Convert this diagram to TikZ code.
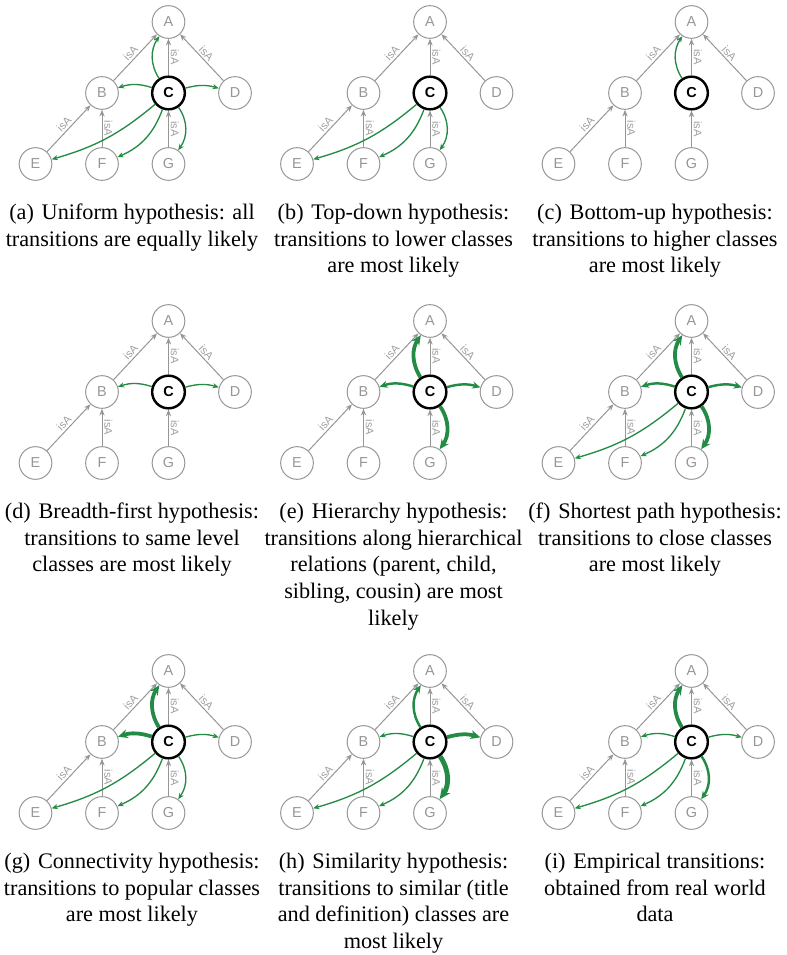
\documentclass[tikz,border=0pt]{standalone}
\usepackage{fontspec}
\setmainfont{Liberation Serif}
\setsansfont{Liberation Sans}
\usepackage{tikz}
\usetikzlibrary{arrows.meta}

\definecolor{clsgray}{RGB}{150,150,150}
\definecolor{lblgray}{RGB}{160,160,160}
\definecolor{trgreen}{RGB}{35,139,69}

\tikzset{
  cls/.style={circle, draw=clsgray, text=clsgray, line width=0.45pt,
    minimum size=14.7pt, inner sep=0pt, font=\sffamily\fontsize{6.5}{7}\selectfont},
  cur/.style={cls, draw=black, text=black, line width=1.1pt,
    font=\sffamily\bfseries\fontsize{6.5}{7}\selectfont},
  isa/.style={draw=clsgray, line width=0.45pt, -{Stealth[length=3pt,width=2.4pt]}},
  lbl/.style={font=\sffamily\fontsize{5}{5}\selectfont, text=lblgray, sloped, above, inner sep=0.8pt},
  lblv/.style={font=\sffamily\fontsize{5}{5}\selectfont, text=lblgray, rotate=-90, anchor=south, inner sep=0.8pt},
  trans/.style={draw=trgreen, line width=0.6pt, -{Stealth[length=2.8pt,width=2.3pt]}},
  trans med/.style={line width=1.1pt, -{Stealth[length=3.6pt,width=3.2pt]}},
  trans bold/.style={line width=1.7pt, -{Stealth[length=4.4pt,width=4pt]}},
  trans heavy/.style={line width=2.2pt, -{Stealth[length=5pt,width=4.6pt]}},
  bendA/.style={bend left=33},
  bendB/.style={bend right=18},
  bendD/.style={bend left=16},
  bendE/.style={bend left=12},
  bendF/.style={bend left=23},
  bendG/.style={bend left=35},
  subcap/.style={align=center, anchor=north, inner sep=0pt,
    font=\fontsize{10}{12}\selectfont}
}

% the class graph of one panel, A placed at (#2,#3)
\newcommand\taxonomy[3]{%
\begin{scope}[shift={(#2,#3)}]
\node[cls] (#1A) at (0,0) {A};
\node[cls] (#1B) at (-66.5,71) {B};
\node[cur] (#1C) at (0,71) {C};
\node[cls] (#1D) at (66.5,71) {D};
\node[cls] (#1E) at (-133,142) {E};
\node[cls] (#1F) at (-66.5,142) {F};
\node[cls] (#1G) at (0,142) {G};
\draw[isa] (#1E) -- node[lbl] {isA} (#1B);
\draw[isa] (#1F) -- node[lblv] {isA} (#1B);
\draw[isa] (#1B) -- node[lbl] {isA} (#1A);
\draw[isa] (#1C) -- node[lblv] {isA} (#1A);
\draw[isa] (#1D) -- node[lbl] {isA} (#1A);
\draw[isa] (#1G) -- node[lblv] {isA} (#1C);
\end{scope}}

% transition from C to #2
\newcommand\jump[3]{\draw[trans,#3] (#1C) to[bend#2] (#1#2);}

\begin{document}
\begin{tikzpicture}[x=0.45pt,y=-0.45pt]
\useasboundingbox (0,0) rectangle (787,955);

% row 1
\taxonomy{a}{168.5}{22}
\foreach \t in {A,B,D,E,F,G} \jump{a}{\t}{};
\node[subcap] (capa) at (132,203.5) {(a)\hspace{3.5pt}Uniform hypothesis: all\\transitions are equally likely};

\taxonomy{b}{430}{22}
\foreach \t in {E,F,G} \jump{b}{\t}{};
\node[subcap] (capb) at (393.5,203.5) {(b)\hspace{3.5pt}Top-down hypothesis:\\transitions to lower classes\\are most likely};

\taxonomy{c}{691.5}{22}
\jump{c}{A}{}
\node[subcap] (capc) at (655,203.5) {(c)\hspace{3.5pt}Bottom-up hypothesis:\\transitions to higher classes\\are most likely};

% row 2
\taxonomy{d}{168.5}{321}
\jump{d}{B}{}
\jump{d}{D}{}
\node[subcap] (capd) at (132,502.5) {(d)\hspace{3.5pt}Breadth-first hypothesis:\\transitions to same level\\classes are most likely};

\taxonomy{e}{430}{321}
\jump{e}{A}{trans bold}
\jump{e}{B}{trans med}
\jump{e}{D}{trans med}
\jump{e}{G}{trans bold}
\node[subcap] (cape) at (393.5,502.5) {(e)\hspace{3.5pt}Hierarchy hypothesis:\\transitions along hierarchical\\relations (parent, child,\\sibling, cousin) are most\\likely};

\taxonomy{f}{691.5}{321}
\jump{f}{A}{trans bold}
\jump{f}{B}{trans med}
\jump{f}{D}{trans med}
\jump{f}{E}{}
\jump{f}{F}{}
\jump{f}{G}{trans bold}
\node[subcap] (capf) at (655,502.5) {(f)\hspace{3.5pt}Shortest path hypothesis:\\transitions to close classes\\are most likely};

% row 3
\taxonomy{g}{168.5}{671}
\jump{g}{A}{trans bold}
\jump{g}{B}{trans bold}
\foreach \t in {D,E,F,G} \jump{g}{\t}{};
\node[subcap] (capg) at (132,852.5) {(g)\hspace{3.5pt}Connectivity hypothesis:\\transitions to popular classes\\are most likely};

\taxonomy{h}{430}{671}
\jump{h}{A}{trans med}
\jump{h}{B}{}
\jump{h}{D}{trans bold}
\jump{h}{E}{}
\jump{h}{F}{}
\jump{h}{G}{trans heavy}
\node[subcap] (caph) at (393.5,852.5) {(h)\hspace{3.5pt}Similarity hypothesis:\\transitions to similar (title\\and definition) classes are\\most likely};

\taxonomy{i}{691.5}{671}
\jump{i}{A}{trans bold}
\foreach \t in {B,D,E,F} \jump{i}{\t}{};
\jump{i}{G}{trans med}
\node[subcap] (capi) at (655,852.5) {(i)\hspace{3.5pt}Empirical transitions:\\obtained from real world\\data};
\end{tikzpicture}
\end{document}
